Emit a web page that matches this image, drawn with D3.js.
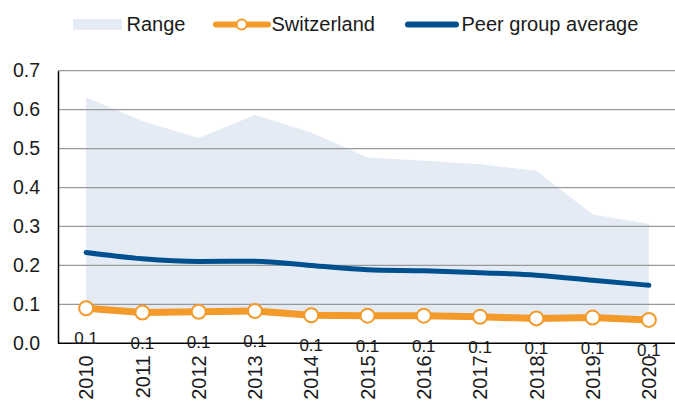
<!DOCTYPE html>
<html>
<head>
<meta charset="utf-8">
<script src="https://cdn.jsdelivr.net/npm/d3@7"></script>
<style>
  body { margin: 0; background: #fff; }
  svg text { font-family: "Liberation Sans", Arial, sans-serif; fill: #1a1a1a; }
</style>
</head>
<body>
<div class="chart"></div>
<script>
var years = ["2010", "2011", "2012", "2013", "2014", "2015", "2016", "2017", "2018", "2019", "2020"];
var rangeHigh = [0.632, 0.571, 0.527, 0.586, 0.541, 0.477, 0.469, 0.460, 0.443, 0.331, 0.307];
var rangeLow = [0.098, 0.081, 0.082, 0.084, 0.074, 0.072, 0.072, 0.069, 0.065, 0.066, 0.060];
var switzerland = [0.090, 0.079, 0.081, 0.083, 0.072, 0.071, 0.071, 0.068, 0.064, 0.066, 0.060];
var peerAverage = [0.233, 0.217, 0.210, 0.211, 0.200, 0.189, 0.186, 0.181, 0.175, 0.162, 0.149];
var yTicks = [0, 0.1, 0.2, 0.3, 0.4, 0.5, 0.6, 0.7];

var width = 675, height = 401;
var margin = { top: 70.7, left: 58, right: -2, bottom: 57.7 };

var orange = "#f39a2b", blue = "#00508f", areaFill = "#e4ebf4";

var svg = d3.select(".chart").append("svg")
    .attr("width", width)
    .attr("height", height);

var x = d3.scaleBand()
    .domain(years)
    .range([margin.left, width - margin.right]);
var y = d3.scaleLinear()
    .domain([0, 0.7])
    .range([height - margin.bottom, margin.top]);
var cx = function(i) { return x(years[i]) + x.bandwidth() / 2; };

// range band
var area = d3.area()
    .x(function(d, i) { return cx(i); })
    .y0(function(d, i) { return y(rangeLow[i]); })
    .y1(function(d) { return y(d); });
svg.append("path")
    .datum(rangeHigh)
    .attr("d", area)
    .attr("fill", areaFill);

// gridlines
svg.append("g")
    .selectAll("line")
    .data(yTicks.slice(1))
    .enter().append("line")
    .attr("x1", margin.left)
    .attr("x2", width)
    .attr("y1", function(d) { return y(d); })
    .attr("y2", function(d) { return y(d); })
    .attr("stroke", "#999")
    .attr("stroke-width", 1.3);

// y axis
var yAxis = d3.axisLeft(y)
    .tickValues(yTicks)
    .tickSize(0)
    .tickPadding(18)
    .tickFormat(d3.format(".1f"));
var yAxisEl = svg.append("g")
    .attr("transform", "translate(" + margin.left + ",0)")
    .call(yAxis);
yAxisEl.select(".domain").attr("stroke", "#000").attr("stroke-width", 1.5);
yAxisEl.selectAll("text")
    .attr("font-size", 19.5)
    .attr("font-family", "Liberation Sans, Arial, sans-serif")
    .attr("fill", "#1a1a1a");

// peer group line
var line = d3.line()
    .x(function(d, i) { return cx(i); })
    .y(function(d) { return y(d); })
    .curve(d3.curveMonotoneX);
svg.append("path")
    .datum(peerAverage)
    .attr("d", line)
    .attr("fill", "none")
    .attr("stroke", blue)
    .attr("stroke-width", 5)
    .attr("stroke-linecap", "round");

// switzerland line
var swLine = d3.line()
    .x(function(d, i) { return cx(i); })
    .y(function(d) { return y(d); });
svg.append("path")
    .datum(switzerland)
    .attr("d", swLine)
    .attr("fill", "none")
    .attr("stroke", orange)
    .attr("stroke-width", 7);
svg.append("g")
    .selectAll("circle")
    .data(switzerland)
    .enter().append("circle")
    .attr("cx", function(d, i) { return cx(i); })
    .attr("cy", function(d) { return y(d); })
    .attr("r", 7)
    .attr("fill", "#fff")
    .attr("stroke", orange)
    .attr("stroke-width", 2);

// x axis
var xAxis = d3.axisBottom(x).tickSize(0).tickPadding(0);
var xAxisEl = svg.append("g")
    .attr("transform", "translate(0," + y(0) + ")")
    .call(xAxis);
xAxisEl.select(".domain").attr("d", "M" + margin.left + ",0H" + width)
    .attr("stroke", "#000").attr("stroke-width", 1.5);
xAxisEl.selectAll("text")
    .attr("font-size", 20)
    .attr("font-family", "Liberation Sans, Arial, sans-serif")
    .attr("fill", "#1a1a1a")
    .attr("transform", "rotate(-90)")
    .attr("text-anchor", "end")
    .attr("x", -12)
    .attr("y", 0)
    .attr("dy", "0.36em");

// data labels
svg.append("g")
    .selectAll("text")
    .data(switzerland)
    .enter().append("text")
    .attr("x", function(d, i) { return cx(i); })
    .attr("y", function(d) { return y(d) + 36; })
    .attr("text-anchor", "middle")
    .attr("font-size", 17)
    .text(function(d) { return d3.format(".1f")(d); });

// legend
var legend = svg.append("g").attr("font-size", 20);
legend.append("rect")
    .attr("x", 73).attr("y", 19).attr("width", 49).attr("height", 11)
    .attr("fill", areaFill);
legend.append("text").attr("x", 126.5).attr("y", 31).text("Range");
legend.append("line")
    .attr("x1", 216).attr("x2", 268).attr("y1", 24.5).attr("y2", 24.5)
    .attr("stroke", orange).attr("stroke-width", 6).attr("stroke-linecap", "round");
legend.append("circle")
    .attr("cx", 241.7).attr("cy", 24.5).attr("r", 5)
    .attr("fill", "#fff").attr("stroke", orange).attr("stroke-width", 2);
legend.append("text").attr("x", 271.5).attr("y", 31).text("Switzerland");
legend.append("line")
    .attr("x1", 408).attr("x2", 456).attr("y1", 24.5).attr("y2", 24.5)
    .attr("stroke", blue).attr("stroke-width", 6).attr("stroke-linecap", "round");
legend.append("text").attr("x", 461.5).attr("y", 31).text("Peer group average");
</script>
</body>
</html>
